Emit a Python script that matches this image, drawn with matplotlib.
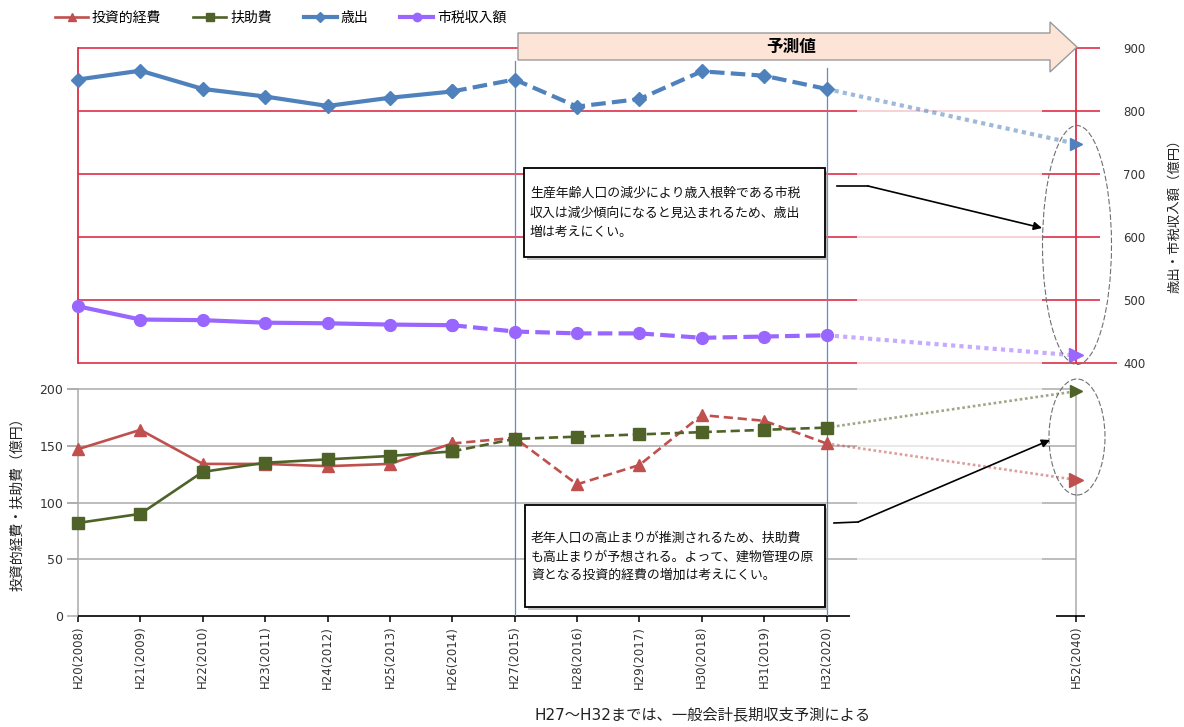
import matplotlib
matplotlib.use('Agg')
import matplotlib.pyplot as plt
import matplotlib.patches as mpatches
from matplotlib.lines import Line2D

plt.rcParams['font.family'] = ['DejaVu Sans', 'Noto Sans CJK JP']

# ---- data (億円) ----
years = ['H20(2008)', 'H21(2009)', 'H22(2010)', 'H23(2011)', 'H24(2012)',
         'H25(2013)', 'H26(2014)', 'H27(2015)', 'H28(2016)', 'H29(2017)',
         'H30(2018)', 'H31(2019)', 'H32(2020)', 'H52(2040)']
spending = [850, 864, 835, 823, 808, 821, 831, 850, 807, 819, 863, 856, 835, 748]
tax_income = [490, 469, 468, 464, 463, 461, 460, 450, 447, 447, 440, 442, 444, 412]
investment = [147, 164, 134, 134, 132, 134, 152, 157, 116, 133, 177, 172, 152, 120]
welfare = [82, 90, 127, 135, 138, 141, 145, 156, 158, 160, 162, 164, 166, 198]

labels = ['投資的経費', '扶助費', '歳出', '市税収入額']
note_top = ['生産年齢人口の減少により歳入根幹である市税',
            '収入は減少傾向になると見込まれるため、歳出',
            '増は考えにくい。']
note_bot = ['老年人口の高止まりが推測されるため、扶助費',
            'も高止まりが予想される。よって、建物管理の原',
            '資となる投資的経費の増加は考えにくい。']
source = 'H27～H32までは、一般会計長期収支予測による'

RED_S, GREEN_S, BLUE_S, PURPLE_S = '#C0504D', '#4F6228', '#4F81BD', '#9966FF'
RED, RED_FADE = '#DE2F48', '#F6C9D0'
GRAY, GRAY_FADE = '#ABABAB', '#E3E3E3'
VLINE = '#5F8CC4'

# categories H20..H32 consecutive, then a gap of 3 slots to H52
GAP = 3
xpos = list(range(len(years) - 1)) + [len(years) - 1 + GAP]

W, H = 1184, 727
def fx(px):
    return px / W
def fy(py):
    return 1 - py / H

fig = plt.figure(figsize=(W / 100, H / 100), dpi=100)
ax_top = fig.add_axes([fx(78), fy(363), fx(1076) - fx(78), fy(48) - fy(363)])
ax_bot = fig.add_axes([fx(78), fy(616), fx(1076) - fx(78), fy(389) - fy(616)])
for ax in (ax_top, ax_bot):
    ax.patch.set_alpha(0)
    ax.set_xlim(0, xpos[-1])
    for s in ax.spines.values():
        s.set_visible(False)

ax_top.set_ylim(400, 900)
ax_bot.set_ylim(0, 200)

# grid lines (faded in the middle like the original)
for v in range(400, 1000, 100):
    ax_top.hlines(v, 0, 12.49, color=RED, lw=1.2, zorder=1, clip_on=False)
    ax_top.hlines(v, 12.49, 15.45, color=RED_FADE, lw=1.2, zorder=1, clip_on=False)
    ax_top.hlines(v, 15.45, 16.66 if v == 400 else 16.38, color=RED, lw=1.2,
                  zorder=1, clip_on=False)
ax_top.axvline(0, color=RED, lw=1.3, zorder=1, clip_on=False)
ax_top.axvline(xpos[-1], color=RED, lw=1.3, zorder=1, clip_on=False)

for v in range(50, 250, 50):
    ax_bot.hlines(v, -0.18, 12.49, color=GRAY, lw=1.1, zorder=1, clip_on=False)
    ax_bot.hlines(v, 12.49, 15.45, color=GRAY_FADE, lw=1.1, zorder=1, clip_on=False)
    ax_bot.hlines(v, 15.45, 16, color=GRAY, lw=1.1, zorder=1, clip_on=False)
ax_bot.axvline(0, color=GRAY, lw=1.1, zorder=1, clip_on=False)
ax_bot.axvline(xpos[-1], color=GRAY, lw=1.1, zorder=1, clip_on=False)
ax_bot.hlines(0, 0, 12.38, color='black', lw=1.2, zorder=2, clip_on=False)
ax_bot.hlines(0, 15.68, 16.14, color='black', lw=1.2, zorder=2, clip_on=False)

# forecast-period boundaries
ax_top.axvline(7, ymin=-26 / 315, ymax=(363 - 61) / 315, color=VLINE, lw=0.9,
               zorder=2, clip_on=False)
ax_top.axvline(12, ymin=-26 / 315, ymax=(363 - 68) / 315, color=VLINE, lw=0.9,
               zorder=2, clip_on=False)
ax_bot.axvline(7, color=VLINE, lw=0.9, zorder=2)
ax_bot.axvline(12, color=VLINE, lw=0.9, zorder=2)


def draw_series(ax, y, color, lw, marker, ms, dash):
    ax.plot(xpos[:7], y[:7], color=color, lw=lw, marker=marker, ms=ms,
            clip_on=False, zorder=5)
    ax.plot(xpos[6:13], y[6:13], color=color, lw=lw, ls=(0, dash),
            marker=marker, ms=ms, clip_on=False, zorder=5)
    ax.plot(xpos[12:], y[12:], color=color, lw=lw, ls=(0, (1, 1)), alpha=0.55,
            clip_on=False, zorder=4)
    ax.plot(xpos[-1:], y[-1:], color=color, marker='>', ms=ms + 1, ls='none',
            clip_on=False, zorder=5)


draw_series(ax_top, spending, BLUE_S, 3.0, 'D', 7, (3.5, 1.5))
draw_series(ax_top, tax_income, PURPLE_S, 3.0, 'o', 8.5, (3.5, 1.5))
draw_series(ax_bot, investment, RED_S, 1.9, '^', 8.5, (3.5, 1.8))
draw_series(ax_bot, welfare, GREEN_S, 1.9, 's', 8, (3.5, 1.8))

# ticks
ax_top.set_xticks([])
ax_top.yaxis.tick_right()
ax_top.set_yticks(range(400, 1000, 100))
ax_top.tick_params(axis='y', length=0, pad=34, labelsize=8.5, labelcolor='#333333')

ax_bot.set_yticks(range(0, 250, 50))
ax_bot.tick_params(axis='y', length=8, color=GRAY, width=1.1, pad=2.5,
                   labelsize=9, labelcolor='#333333')
ax_bot.set_xticks(xpos)
ax_bot.set_xticklabels(years, rotation=90, fontsize=8.5, color='#333333')
ax_bot.tick_params(axis='x', length=4, color='black', width=1.1, pad=3)

fig.text(fx(1175), fy(213), '歳出・市税収入額（億円）', rotation=90,
         ha='center', va='center', fontsize=9.6, color='#222222')
fig.text(fx(17), fy(501), '投資的経費・扶助費（億円）', rotation=90,
         ha='center', va='center', fontsize=10, color='#222222')

# legend
handles = [
    Line2D([], [], color=RED_S, lw=1.9, marker='^', ms=6),
    Line2D([], [], color=GREEN_S, lw=1.9, marker='s', ms=5.5),
    Line2D([], [], color=BLUE_S, lw=3.0, marker='D', ms=5),
    Line2D([], [], color=PURPLE_S, lw=3.0, marker='o', ms=6),
]
fig.legend(handles, labels, loc='center left', bbox_to_anchor=(fx(55), fy(18)),
           ncol=4, frameon=False, fontsize=10, handlelength=2.4,
           handletextpad=0.25, columnspacing=2.3, borderaxespad=0, borderpad=0)

# forecast arrow
arrow_px = [(518, 33), (1050, 33), (1050, 22), (1077, 47), (1050, 72),
            (1050, 60), (518, 60)]
fig.add_artist(mpatches.Polygon([(fx(a), fy(b)) for a, b in arrow_px], closed=True,
                                transform=fig.transFigure, facecolor='#FCE4D6',
                                edgecolor='#9A9A9A', lw=1.0, zorder=6))
fig.text(fx(791), fy(47), '予測値', ha='center', va='center', fontsize=12,
         fontweight='bold', color='black', zorder=7)

# dashed ellipses
for cx, cy, w, h in [(1077, 245, 69, 239), (1077, 437, 56, 116)]:
    fig.add_artist(mpatches.Ellipse((fx(cx), fy(cy)), w / W, h / H,
                                    transform=fig.transFigure, fill=False,
                                    edgecolor='#707070', lw=0.8, ls=(0, (5, 2)),
                                    zorder=6))

# callout boxes
def callout(box, lines, line_y, start, elbow, tip):
    x0, y0, x1, y1 = box
    fig.add_artist(mpatches.Rectangle((fx(x0 + 3), fy(y1 + 3)), (x1 - x0) / W,
                                      (y1 - y0) / H, transform=fig.transFigure,
                                      facecolor='#9A9A9A', edgecolor='none',
                                      alpha=0.6, zorder=7))
    fig.add_artist(mpatches.Rectangle((fx(x0), fy(y1)), (x1 - x0) / W,
                                      (y1 - y0) / H, transform=fig.transFigure,
                                      facecolor='white', edgecolor='black',
                                      lw=1.3, zorder=8))
    for t, yy in zip(lines, line_y):
        fig.text(fx(x0 + 6), fy(yy), t, ha='left', va='center', fontsize=9.3,
                 color='#111111', zorder=9)
    fig.add_artist(Line2D([fx(start[0]), fx(elbow[0])], [fy(start[1]), fy(elbow[1])],
                          transform=fig.transFigure, color='black', lw=1.2, zorder=8))
    fig.add_artist(mpatches.FancyArrowPatch((fx(elbow[0]), fy(elbow[1])),
                                            (fx(tip[0]), fy(tip[1])),
                                            transform=fig.transFigure,
                                            arrowstyle='-|>', mutation_scale=12,
                                            color='black', lw=1.2,
                                            shrinkA=0, shrinkB=0, zorder=8))


callout((524, 168, 825, 257), note_top, [193, 213, 232], (837, 186), (868, 186), (1042, 228))
callout((525, 505, 825, 607), note_bot, [538, 557, 575], (834, 523), (858, 522), (1050, 440))

fig.text(fx(535), fy(715), source, ha='left', va='center', fontsize=11,
         color='#222222')

fig.savefig('out.png', dpi=100)
